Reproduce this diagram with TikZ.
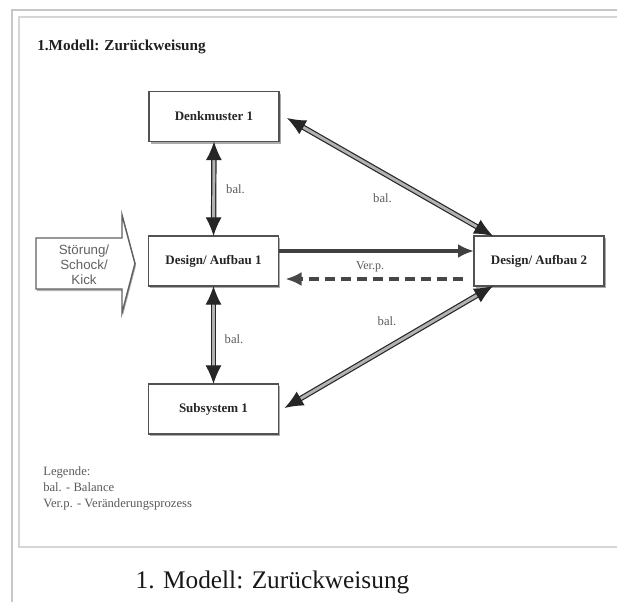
\documentclass[tikz,border=0pt]{standalone}
\usepackage{fontspec}
\setmainfont{Liberation Serif}
\newfontfamily\sansf{Liberation Sans}
\usetikzlibrary{arrows.meta,calc,shadows}
\begin{document}
\begin{tikzpicture}[x=0.75pt,y=-0.75pt,
  box/.style={draw=black!68, line width=1.3pt, fill=white, minimum width=97.5pt, minimum height=37.5pt,
    inner sep=0pt, outer sep=0pt, font=\bfseries\fontsize{9.75}{12}\selectfont, text=black!85,
    drop shadow={shadow xshift=1.3pt, shadow yshift=-1.6pt, opacity=0.6, fill=black!55}},
  balarrow/.style={draw=black!85, line width=0.9pt, double=black!30, double distance=2.2pt,
    {Latex[length=14pt,width=12pt]}-{Latex[length=14pt,width=12pt]}},
  lbl/.style={font=\fontsize{9.5}{11}\selectfont, text=black!65, inner sep=0pt},
  frameout/.style={draw=black!22, line width=1.6pt},
  framein/.style={draw=black!16, line width=1.2pt}]
\useasboundingbox (0,0) rectangle (617,602);
% page frames
\draw[frameout] (11,10) -- (617,10);
\draw[frameout] (12,10) -- (12,602);
\draw[framein] (619,17) -- (19,17) -- (19,547) -- (619,547);
% title
\node[anchor=west, inner sep=0pt, font=\bfseries\fontsize{11.4}{13}\selectfont, text=black!88] (title) at (37,47) {1.Modell: Zurückweisung};
% boxes
\node[box] (dm)  at (214,116.5) {Denkmuster 1};
\node[box] (da1) at (213.5,261) {Design/ Aufbau 1};
\node[box] (da2) at (539,261)   {Design/ Aufbau 2};
\node[box] (sub) at (213.5,409) {Subsystem 1};
% disturbance arrow
\draw[draw=black!62, line width=1.1pt, fill=white,
  drop shadow={shadow xshift=0.8pt, shadow yshift=-1.5pt, opacity=0.55, fill=black!55}]
  (36,238) -- (122,238) -- (122,215) -- (135,263.5) -- (122,313) -- (122,289) -- (36,289) -- cycle;
\node[align=center, inner sep=0pt, font=\sansf\fontsize{10}{11.25}\selectfont, text=black!62] (st) at (84,264.5)
  {Störung/\\Schock/\\Kick};
% connectors
\draw[balarrow] (dm.south) -- (da1.north);
\draw[balarrow] (da1.south) -- (sub.north);
\draw[balarrow] ($(dm.east)+(8,1.5)$) -- ($(da2.north west)+(19,0)$);
\draw[balarrow] ($(sub.east)+(6,-1)$) -- ($(da2.south west)+(19,0)$);
\draw[draw=black!75, line width=2.4pt, -{Latex[length=12pt,width=10.5pt]}] ($(da1.east)+(0,-10)$) -- ($(da2.west)+(0,-10)$);
\draw[draw=black!72, line width=2.3pt, dash pattern=on 7.5pt off 4.5pt, -{Latex[length=12pt,width=10.5pt]}]
  ($(da2.west)+(-11,18)$) -- ($(da1.east)+(7,18)$);
% labels
\node[lbl] (l1) at (235.5,189) {bal.};
\node[lbl] (l2) at (382.5,198) {bal.};
\node[lbl] (l3) at (234,339) {bal.};
\node[lbl] (l4) at (387,321) {bal.};
\node[lbl, font=\fontsize{9}{11}\selectfont] (l5) at (370,267) {Ver.p.};
% legend
\node[anchor=north west, align=left, inner sep=0pt, font=\fontsize{9.5}{12}\selectfont, text=black!65] (leg) at (43,466)
  {Legende:\\bal. - Balance\\Ver.p. - Veränderungsprozess};
% caption
\node[inner sep=0pt, font=\fontsize{19}{22}\selectfont, text=black!90] (cap) at (272.5,582) {1. Modell: Zurückweisung};
\end{tikzpicture}
\end{document}
